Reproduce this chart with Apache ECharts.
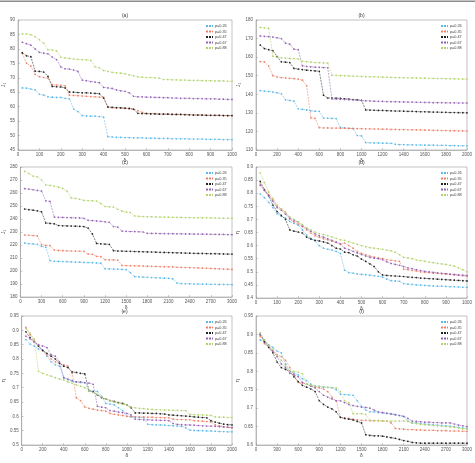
<!DOCTYPE html>
<html><head><meta charset="utf-8">
<script src="https://cdn.jsdelivr.net/npm/echarts@6/dist/echarts.min.js"></script>
<style>html,body{margin:0;padding:0;background:#fff}#c{width:475px;height:463px}</style>
</head><body><div id="c"></div>
<script>
const seriesNames = ['p=0.26','p=0.35','p=0.47','p=0.67','p=0.88'];
const panelTitles = ['(a)','(b)','(c)','(d)','(e)','(f)'];
const xNames = ['δ','δ','δ','δ','δ','δ'];
const yNames = ['J₁','J₁','J₁','η','η','η'];

// x sample positions
const xA = [20,40,60,80,100,120,140,160,180,200,220,240,260,280,300,320,340,360,380,400,420,440,460,480,500,520,540,560,580,600,620,640,660,680,700,720,740,760,780,800,820,840,860,880,900,920,940,960,980,1000];
const xB = [40,80,120,160,200,240,280,320,360,400,440,480,520,560,600,640,680,720,760,800,840,880,920,960,1000,1040,1080,1120,1160,1200,1240,1280,1320,1360,1400,1440,1480,1520,1560,1600,1640,1680,1720,1760,1800,1840,1880,1920,1960,2000];
const xC = [60,120,180,240,300,360,420,480,540,600,660,720,780,840,900,960,1020,1080,1140,1200,1260,1320,1380,1440,1500,1560,1620,1680,1740,1800,1860,1920,1980,2040,2100,2160,2220,2280,2340,2400,2460,2520,2580,2640,2700,2760,2820,2880,2940,3000];
const xD = xA, xE = xB, xF = xC;

// (a)
const a26 = [66.5,66.4,66.1,65.8,64.3,64.0,63.4,63.3,63.2,63.2,62.9,62.7,59.2,58.3,56.9,56.8,56.7,56.7,56.6,56.4,49.6,49.5,49.4,49.4,49.3,49.3,49.2,49.2,49.2,49.1,49.1,49.1,49.0,49.0,49.0,48.9,48.9,48.9,48.9,48.8,48.8,48.8,48.8,48.7,48.7,48.7,48.7,48.6,48.6,48.6];
const a35 = [78.4,75.0,74.0,71.2,70.4,70.1,69.9,67.6,67.5,67.4,67.2,64.0,63.9,63.8,63.7,63.6,63.5,63.4,63.3,63.2,59.8,59.6,59.5,59.5,59.4,59.3,59.2,58.6,58.0,57.7,57.6,57.6,57.5,57.5,57.4,57.4,57.3,57.3,57.3,57.2,57.2,57.1,57.1,57.1,57.0,57.0,57.0,57.0,56.9,56.9];
const a47 = [78.7,77.6,77.3,72.3,72.2,72.0,70.5,67.0,66.9,66.8,66.5,65.1,65.0,64.9,64.8,64.8,64.7,64.6,64.5,63.0,59.9,59.8,59.7,59.6,59.5,59.4,59.1,57.7,57.6,57.6,57.5,57.5,57.4,57.4,57.4,57.3,57.3,57.3,57.2,57.2,57.1,57.1,57.1,57.0,57.0,57.0,57.0,56.9,56.9,56.9];
const a67 = [82.3,81.8,81.3,80.0,78.8,78.5,78.3,77.2,76.3,73.8,73.1,73.0,72.7,72.2,69.2,69.0,68.7,68.5,68.3,66.7,66.5,66.3,65.8,65.5,65.3,64.8,63.6,63.4,63.4,63.3,63.3,63.2,63.2,63.1,63.1,63.0,63.0,62.9,62.9,62.9,62.8,62.8,62.8,62.7,62.7,62.7,62.6,62.6,62.5,62.5];
const a88 = [85.2,85.2,84.9,84.2,83.2,82.0,79.7,79.6,79.3,77.1,76.9,76.7,76.5,76.4,76.3,76.2,76.0,73.8,73.5,72.5,72.2,71.9,71.7,71.6,71.4,71.0,70.7,70.3,70.2,70.1,70.1,70.0,69.9,69.4,69.4,69.3,69.3,69.2,69.2,69.1,69.1,69.1,69.0,69.0,69.0,68.9,68.9,68.9,68.8,68.8];
// (b)
const b26 = [142.0,141.7,141.5,141.2,140.8,140.3,137.0,136.7,136.3,132.2,131.9,131.6,131.1,130.9,130.8,127.2,127.1,127.0,126.9,122.2,121.9,121.7,121.5,117.8,117.6,114.0,113.9,113.8,113.8,113.7,113.7,113.6,113.1,112.9,112.9,112.8,112.8,112.7,112.7,112.6,112.6,112.6,112.5,112.5,112.5,112.4,112.4,112.3,112.3,112.3];
const b35 = [157.6,157.4,155.2,150.0,149.3,149.0,148.8,148.6,148.4,148.2,147.6,144.6,127.3,127.0,122.0,121.9,121.9,121.8,121.8,121.7,121.7,121.6,121.6,121.5,121.5,121.4,121.4,121.3,121.3,121.2,121.2,121.1,121.1,121.0,121.0,120.9,120.9,120.8,120.8,120.7,120.7,120.6,120.6,120.5,120.5,120.4,120.4,120.3,120.3,120.2];
const b47 = [166.5,164.6,164.0,163.5,160.3,157.5,157.3,157.1,153.9,153.6,153.3,153.0,152.8,152.6,152.4,139.5,138.0,138.0,137.9,137.8,137.6,137.4,137.2,137.0,136.8,131.6,131.5,131.4,131.3,131.3,131.2,131.1,131.0,131.0,130.9,130.8,130.8,130.7,130.6,130.6,130.5,130.4,130.4,130.3,130.3,130.2,130.2,130.1,130.1,130.0];
const b67 = [171.4,171.2,171.0,170.8,170.4,170.0,167.5,167.0,164.3,164.0,155.3,155.0,154.8,154.6,154.5,154.4,154.3,137.5,137.4,137.3,137.2,137.1,137.0,136.8,136.6,136.5,136.4,136.3,136.2,136.2,136.1,136.0,136.0,135.9,135.9,135.8,135.8,135.7,135.7,135.6,135.6,135.5,135.5,135.5,135.4,135.4,135.4,135.3,135.3,135.3];
const b88 = [176.0,175.8,175.5,160.5,160.0,159.7,159.5,159.3,159.2,159.0,157.8,157.6,157.3,157.1,157.0,156.9,156.8,150.3,150.2,150.1,150.0,149.9,149.8,149.7,149.6,149.5,149.4,149.4,149.3,149.2,149.2,149.1,149.0,149.0,148.9,148.9,148.8,148.8,148.7,148.7,148.6,148.6,148.5,148.5,148.4,148.4,148.3,148.3,148.2,148.2];
// (c)
const c26 = [221.5,221.0,220.8,220.5,219.0,218.3,208.0,207.5,207.4,207.3,207.2,207.0,206.9,206.8,206.6,206.5,206.4,206.2,206.0,201.8,201.6,201.5,201.4,201.2,201.0,198.8,195.7,195.5,195.3,195.2,195.0,194.8,194.7,194.5,194.4,194.0,190.7,190.3,190.2,190.1,190.0,190.0,189.9,189.9,189.8,189.8,189.7,189.7,189.6,189.5];
const c35 = [227.7,227.5,227.3,227.0,220.3,219.8,219.5,216.2,215.8,215.6,215.5,215.4,215.3,215.2,215.1,213.1,212.8,211.3,211.0,208.8,208.6,208.5,208.3,204.3,204.2,204.1,204.0,203.9,203.8,203.7,203.6,203.5,203.4,203.3,203.2,203.1,202.9,202.8,202.7,202.6,202.5,202.4,202.2,202.1,202.0,201.8,201.7,201.5,201.4,201.2];
const c47 = [247.7,247.2,246.8,246.3,245.5,236.9,236.6,236.3,235.0,234.8,234.7,234.6,234.5,234.4,234.2,233.0,228.5,221.2,220.9,220.7,220.5,215.6,215.4,215.3,215.2,215.1,215.0,214.9,214.8,214.7,214.6,214.5,214.4,214.3,214.2,214.1,214.0,213.9,213.8,213.7,213.6,213.5,213.5,213.4,213.3,213.3,213.2,213.1,213.0,213.0];
const c67 = [263.3,263.0,262.5,262.0,261.5,254.0,253.5,241.5,241.3,241.2,241.1,241.0,240.9,240.8,240.5,239.0,238.8,238.5,238.2,237.8,237.5,234.2,233.8,230.7,230.5,230.4,230.3,230.2,230.0,229.0,228.9,228.9,228.8,228.8,228.7,228.7,228.6,228.6,228.5,228.5,228.4,228.4,228.3,228.3,228.2,228.2,228.1,228.1,228.0,228.0];
const c88 = [276.7,275.0,273.0,272.5,270.0,266.2,265.8,265.3,264.5,263.5,261.5,256.2,255.8,255.2,254.3,254.2,254.0,253.8,252.0,249.6,249.4,249.2,247.5,246.0,245.3,245.0,242.4,242.0,241.9,241.8,241.7,241.6,241.5,241.5,241.4,241.3,241.3,241.2,241.1,241.1,241.0,241.0,240.9,240.9,240.8,240.8,240.7,240.6,240.6,240.5];
// (d)
const d26 = [0.797,0.783,0.765,0.745,0.722,0.712,0.705,0.692,0.685,0.678,0.66,0.64,0.628,0.618,0.6,0.59,0.586,0.583,0.578,0.57,0.506,0.497,0.495,0.492,0.49,0.489,0.487,0.485,0.483,0.48,0.472,0.466,0.465,0.464,0.455,0.453,0.452,0.45,0.449,0.448,0.447,0.446,0.445,0.445,0.444,0.443,0.443,0.442,0.441,0.441];
const d35 = [0.835,0.815,0.795,0.775,0.75,0.74,0.728,0.7,0.69,0.682,0.672,0.66,0.648,0.638,0.632,0.626,0.622,0.617,0.612,0.605,0.61,0.6,0.59,0.578,0.57,0.565,0.56,0.556,0.553,0.55,0.546,0.544,0.542,0.54,0.51,0.508,0.505,0.503,0.5,0.498,0.497,0.495,0.494,0.493,0.492,0.49,0.488,0.487,0.485,0.483];
const d47 = [0.845,0.812,0.79,0.755,0.73,0.715,0.7,0.66,0.655,0.652,0.648,0.632,0.625,0.62,0.618,0.614,0.61,0.6,0.59,0.587,0.575,0.573,0.565,0.56,0.548,0.54,0.53,0.52,0.5,0.488,0.486,0.485,0.484,0.483,0.482,0.48,0.479,0.478,0.476,0.475,0.474,0.473,0.472,0.471,0.47,0.469,0.468,0.467,0.466,0.465];
const d67 = [0.83,0.81,0.79,0.77,0.745,0.735,0.72,0.705,0.695,0.69,0.675,0.665,0.655,0.645,0.638,0.632,0.626,0.62,0.613,0.607,0.59,0.585,0.578,0.572,0.566,0.56,0.555,0.552,0.55,0.546,0.538,0.532,0.528,0.525,0.52,0.515,0.512,0.508,0.505,0.502,0.5,0.498,0.496,0.494,0.493,0.491,0.49,0.488,0.487,0.486];
const d88 = [0.878,0.84,0.805,0.78,0.755,0.74,0.725,0.71,0.7,0.69,0.68,0.668,0.66,0.652,0.646,0.642,0.638,0.633,0.628,0.622,0.62,0.615,0.61,0.605,0.6,0.596,0.592,0.59,0.588,0.586,0.583,0.58,0.575,0.565,0.555,0.553,0.55,0.545,0.543,0.54,0.537,0.535,0.532,0.53,0.528,0.525,0.522,0.515,0.508,0.5];
// (e)
const e26 = [0.868,0.852,0.845,0.835,0.83,0.81,0.79,0.78,0.775,0.735,0.728,0.722,0.72,0.718,0.717,0.69,0.688,0.687,0.67,0.645,0.643,0.64,0.63,0.62,0.6,0.598,0.597,0.596,0.595,0.572,0.571,0.57,0.57,0.569,0.568,0.567,0.566,0.565,0.56,0.552,0.551,0.55,0.55,0.549,0.549,0.548,0.547,0.547,0.546,0.546];
const e35 = [0.91,0.885,0.865,0.845,0.83,0.815,0.8,0.79,0.785,0.78,0.775,0.75,0.665,0.655,0.633,0.628,0.625,0.622,0.62,0.618,0.61,0.607,0.605,0.603,0.6,0.599,0.599,0.598,0.598,0.597,0.597,0.596,0.596,0.595,0.595,0.59,0.589,0.589,0.588,0.588,0.585,0.584,0.583,0.582,0.58,0.57,0.567,0.564,0.562,0.56];
const e47 = [0.895,0.875,0.86,0.845,0.83,0.82,0.81,0.8,0.785,0.775,0.77,0.755,0.753,0.75,0.748,0.69,0.685,0.675,0.665,0.66,0.655,0.652,0.648,0.645,0.64,0.63,0.612,0.612,0.611,0.611,0.61,0.61,0.609,0.608,0.605,0.604,0.603,0.602,0.601,0.6,0.598,0.597,0.596,0.595,0.585,0.58,0.576,0.573,0.571,0.57];
const e67 = [0.88,0.87,0.86,0.85,0.845,0.84,0.815,0.81,0.79,0.735,0.73,0.725,0.72,0.72,0.718,0.716,0.712,0.635,0.632,0.63,0.62,0.618,0.615,0.613,0.61,0.605,0.59,0.589,0.588,0.588,0.587,0.587,0.586,0.586,0.585,0.575,0.572,0.571,0.57,0.57,0.569,0.568,0.567,0.566,0.566,0.565,0.564,0.563,0.562,0.561];
const e88 = [0.906,0.89,0.87,0.757,0.75,0.745,0.74,0.735,0.73,0.727,0.72,0.715,0.71,0.705,0.7,0.69,0.683,0.677,0.668,0.66,0.655,0.65,0.645,0.642,0.64,0.633,0.63,0.628,0.627,0.625,0.624,0.623,0.623,0.622,0.622,0.621,0.621,0.62,0.62,0.607,0.606,0.605,0.605,0.604,0.603,0.598,0.597,0.597,0.596,0.596];
// (f)
const f26 = [0.885,0.88,0.872,0.865,0.855,0.85,0.82,0.8,0.795,0.79,0.78,0.775,0.765,0.76,0.758,0.757,0.756,0.755,0.75,0.738,0.737,0.736,0.735,0.72,0.705,0.695,0.69,0.69,0.688,0.687,0.686,0.685,0.683,0.68,0.677,0.665,0.66,0.66,0.658,0.657,0.656,0.655,0.654,0.653,0.652,0.651,0.65,0.648,0.646,0.645];
const f35 = [0.895,0.875,0.865,0.855,0.845,0.84,0.83,0.81,0.79,0.77,0.768,0.765,0.76,0.757,0.755,0.752,0.745,0.73,0.72,0.675,0.673,0.672,0.67,0.668,0.667,0.667,0.666,0.666,0.666,0.665,0.665,0.66,0.645,0.644,0.643,0.642,0.642,0.641,0.641,0.64,0.64,0.64,0.639,0.639,0.639,0.638,0.638,0.638,0.637,0.637];
const f47 = [0.9,0.88,0.865,0.85,0.825,0.81,0.805,0.8,0.785,0.772,0.762,0.757,0.752,0.745,0.72,0.71,0.703,0.698,0.69,0.675,0.672,0.67,0.668,0.664,0.66,0.628,0.626,0.625,0.625,0.624,0.622,0.62,0.618,0.615,0.612,0.61,0.607,0.606,0.605,0.605,0.605,0.605,0.605,0.605,0.605,0.605,0.605,0.605,0.605,0.605];
const f67 = [0.9,0.885,0.87,0.855,0.84,0.82,0.81,0.795,0.79,0.785,0.77,0.765,0.76,0.755,0.745,0.735,0.73,0.725,0.72,0.72,0.715,0.71,0.707,0.705,0.703,0.702,0.7,0.695,0.69,0.688,0.686,0.684,0.682,0.68,0.678,0.672,0.665,0.664,0.663,0.662,0.662,0.661,0.661,0.66,0.66,0.66,0.657,0.654,0.652,0.65];
const f88 = [0.905,0.885,0.87,0.86,0.845,0.83,0.815,0.8,0.8,0.798,0.793,0.765,0.762,0.76,0.76,0.758,0.757,0.756,0.755,0.745,0.72,0.715,0.685,0.685,0.685,0.683,0.667,0.666,0.666,0.665,0.665,0.665,0.665,0.665,0.665,0.664,0.66,0.658,0.656,0.655,0.654,0.653,0.652,0.651,0.65,0.649,0.648,0.646,0.644,0.643];

// axis ranges (min, max, interval)
const xRanges = [[0,1000,100],[0,2000,200],[0,3000,300],[0,1000,100],[0,2000,200],[0,3000,300]];
const yRanges = [[45,90,5],[110,180,10],[180,280,10],[0.4,0.9,0.05],[0.5,0.95,0.05],[0.6,0.95,0.05]];

const panelX = [xA,xB,xC,xD,xE,xF];
const panelY = [[a26,a35,a47,a67,a88],[b26,b35,b47,b67,b88],[c26,c35,c47,c67,c88],[d26,d35,d47,d67,d88],[e26,e35,e47,e67,e88],[f26,f35,f47,f67,f88]];

// layout / style
const grids = [
  {left:18, top:20, width:214, height:130},
  {left:256, top:20, width:211, height:130},
  {left:18, top:167, width:214, height:130},
  {left:256, top:167, width:211, height:131},
  {left:17, top:316, width:215, height:129},
  {left:256, top:316, width:211, height:129}
];
const colors = ['#5cb8e8','#ec8068','#222222','#9563b5','#b3d36e'];
const symbols = ['circle','circle','circle','circle','circle'];
const FONT = 'Liberation Sans, Arial, sans-serif';
const fmt = v => String(Math.round(v*1000)/1000);

const chart = echarts.init(document.getElementById('c'), null, {renderer:'canvas'});
const xAxis = [], yAxis = [], series = [], legend = [], title = [];
grids.forEach((g,i)=>{
  xAxis.push({type:'value', gridIndex:i, min:xRanges[i][0], max:xRanges[i][1], interval:xRanges[i][2],
    name:xNames[i], nameLocation:'middle', nameGap:7, nameTextStyle:{fontSize:5, color:'#444', fontFamily:FONT},
    axisLine:{show:true, lineStyle:{color:'#9a9a9a', width:0.6}}, axisTick:{show:true, inside:true, length:2, lineStyle:{color:'#9a9a9a', width:0.5}},
    axisLabel:{fontSize:4.5, color:'#555', margin:2, fontFamily:FONT, formatter:fmt}, splitLine:{show:false}});
  yAxis.push({type:'value', gridIndex:i, min:yRanges[i][0], max:yRanges[i][1], interval:yRanges[i][2],
    name:yNames[i], nameLocation:'middle', nameGap:11, nameRotate:90, nameTextStyle:{fontSize:5, color:'#444', fontFamily:FONT},
    axisLine:{show:true, lineStyle:{color:'#9a9a9a', width:0.6}}, axisTick:{show:true, inside:true, length:2, lineStyle:{color:'#9a9a9a', width:0.5}},
    axisLabel:{fontSize:4.5, color:'#555', margin:3, fontFamily:FONT, formatter:fmt}, splitLine:{show:false}});
  title.push({text:panelTitles[i], left:g.left + g.width/2, top:g.top-7, textAlign:'center',
    textStyle:{fontSize:5, fontWeight:'normal', color:'#333', fontFamily:FONT}, padding:0});
  legend.push({data:seriesNames, orient:'vertical', left:g.left + g.width - 27, top:g.top + 4,
    itemWidth:7, itemHeight:1.5, itemGap:1.5, padding:0, selectedMode:false,
    itemStyle:{borderWidth:0},
    textStyle:{fontSize:3.8, color:'#444', fontFamily:FONT, padding:[0,0,0,-3]}});
  panelY[i].forEach((ys,s)=>{
    series.push({type:'line', name:seriesNames[s], xAxisIndex:i, yAxisIndex:i,
      data: panelX[i].map((x,k)=>[x, ys[k]]),
      symbol:symbols[s], symbolSize:1.7, showSymbol:true,
      lineStyle:{color:colors[s], width:0.55, type:[2,1]},
      itemStyle:{color:colors[s], borderWidth:0},
      emphasis:{disabled:true},
      animation:false, z:2+s});
  });
});

chart.setOption({
  animation:false,
  backgroundColor:'#fff',
  textStyle:{fontFamily:FONT},
  title, legend,
  grid: grids.map(g=>Object.assign({show:true, borderColor:'#9a9a9a', borderWidth:0.6, backgroundColor:'transparent'}, g)),
  xAxis, yAxis, series,
  graphic:[{type:'rect', shape:{x:0, y:0.5, width:475, height:1.5}, style:{fill:'#8c8c8c'}}]
});
</script></body></html>
